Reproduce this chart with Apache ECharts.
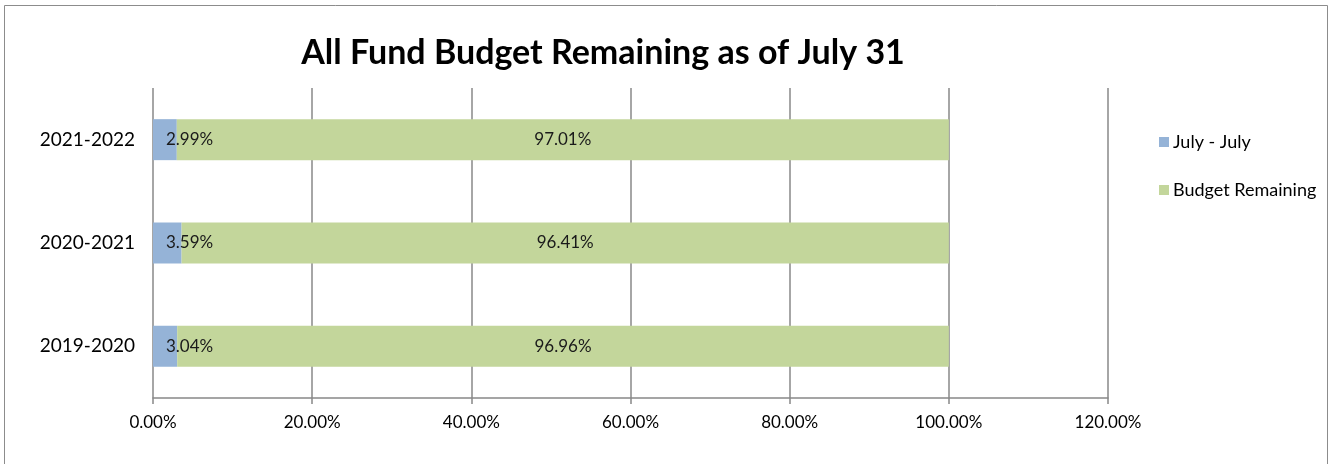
<!DOCTYPE html>
<html>
<head>
<meta charset="utf-8">
<script src="https://cdn.jsdelivr.net/npm/echarts@6/dist/echarts.min.js"></script>
<style>
  html, body { margin: 0; padding: 0; background: #fff; }
  #chart { width: 1333px; height: 464px; }
</style>
</head>
<body>
<div id="chart"></div>
<script>
// Fiscal years, listed bottom to top on the category axis
const years = ['2019-2020', '2020-2021', '2021-2022'];
// Share of the year's budget spent July - July (percent)
const spent = [3.04, 3.59, 2.99];
// Share of the budget still remaining (percent)
const remaining = [96.96, 96.41, 97.01];
// Value axis ticks (percent)
const xTicks = [0, 20, 40, 60, 80, 100, 120];

const FONT = 'Lato, "Open Sans", sans-serif';
const chart = echarts.init(document.getElementById('chart'));

chart.setOption({
  animation: false,
  backgroundColor: '#fff',
  graphic: [{
    type: 'rect',
    shape: { x: 4.5, y: 5.5, width: 1323, height: 470 },
    style: { fill: 'none', stroke: '#8c8c8c', lineWidth: 1 },
    silent: true
  }],
  title: {
    text: 'All Fund Budget Remaining as of July 31',
    left: 598, top: 31, textAlign: 'center',
    textStyle: { fontFamily: FONT, fontWeight: 'bold', fontSize: 34, color: '#000' }
  },
  legend: {
    orient: 'vertical',
    left: 1154, top: 128,
    itemWidth: 10, itemHeight: 10, itemGap: 30,
    icon: 'rect',
    textStyle: { fontFamily: FONT, fontSize: 18, color: '#000', padding: [0, 0, 0, -1] },
    data: ['July - July', 'Budget Remaining']
  },
  grid: { left: 153, right: 225, top: 88, bottom: 66 },
  xAxis: {
    type: 'value',
    min: xTicks[0], max: xTicks[xTicks.length - 1], interval: xTicks[1] - xTicks[0],
    axisLine: { show: true, lineStyle: { color: '#888', width: 1.5 } },
    axisTick: { show: true, length: 6, lineStyle: { color: '#888', width: 1.5 } },
    splitLine: { show: true, lineStyle: { color: '#888', width: 1.5 } },
    axisLabel: {
      fontFamily: FONT, fontSize: 17, color: '#000', margin: 16,
      formatter: v => v.toFixed(2) + '%'
    }
  },
  yAxis: {
    type: 'category',
    data: years,
    axisLine: { show: false },
    axisTick: { show: false },
    axisLabel: { fontFamily: FONT, fontSize: 19, color: '#000', margin: 18 }
  },
  series: [
    {
      name: 'July - July',
      type: 'bar', stack: 'total', barWidth: 41,
      itemStyle: { color: '#95b3d7' },
      label: {
        show: true, position: 'insideLeft', distance: 13,
        fontFamily: FONT, fontSize: 17, color: '#1a1a1a',
        formatter: p => p.value.toFixed(2) + '%'
      },
      data: spent
    },
    {
      name: 'Budget Remaining',
      type: 'bar', stack: 'total', barWidth: 41,
      itemStyle: { color: '#c3d69b' },
      label: {
        show: true, position: 'inside',
        fontFamily: FONT, fontSize: 17, color: '#1a1a1a',
        formatter: p => p.value.toFixed(2) + '%'
      },
      data: remaining
    }
  ]
});
</script>
</body>
</html>
